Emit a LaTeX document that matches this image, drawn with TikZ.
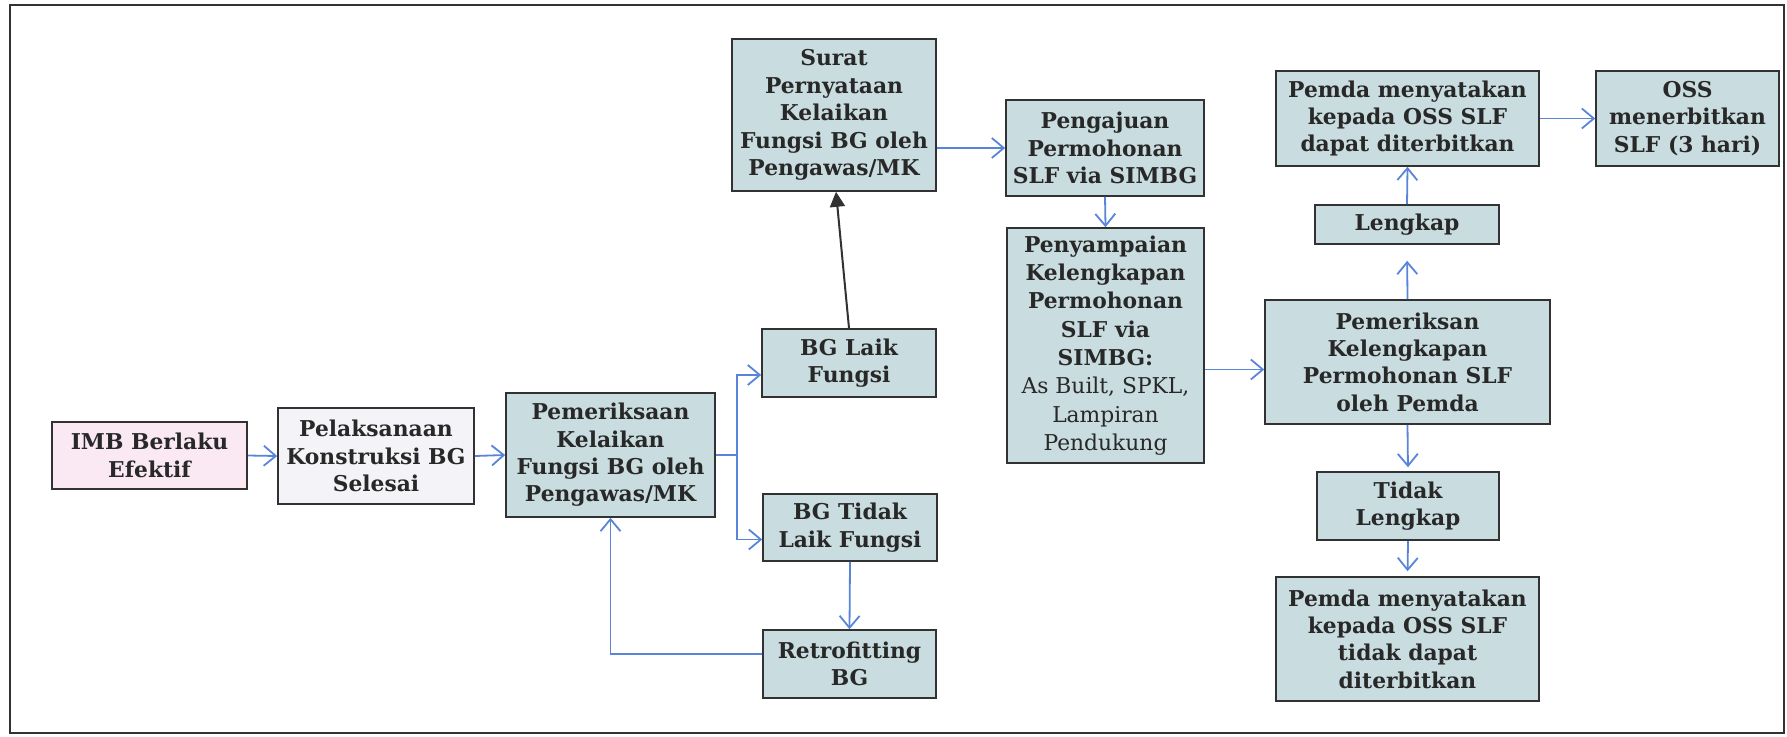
\documentclass[tikz,border=0pt]{standalone}
\usepackage{fontspec}
\setmainfont{DejaVu Serif}
\usetikzlibrary{arrows.meta}
\definecolor{boxfill}{RGB}{201,220,223}
\definecolor{pinkfill}{RGB}{250,232,242}
\definecolor{palefill}{RGB}{244,244,248}
\definecolor{txt}{RGB}{40,40,40}
\definecolor{arrblue}{RGB}{88,132,218}
\definecolor{edge}{RGB}{50,50,50}
\tikzset{
  box/.style={draw=edge, line width=1.6pt, fill=boxfill, inner sep=0pt, align=center,
    text=txt, font=\fontsize{21.8}{27.4}\selectfont\bfseries},
  arr/.style={draw=arrblue, line width=1.8pt, -{Straight Barb[length=12pt,width=20pt,line width=1.8pt]}},
  bline/.style={draw=arrblue, line width=1.8pt},
  karr/.style={draw=edge, line width=2pt, -{Triangle[length=15pt,width=15pt]}}
}
\begin{document}
\begin{tikzpicture}[x=1pt,y=-1pt]
\useasboundingbox (0,0) rectangle (1787,736);
\draw[edge, line width=1.6pt] (10,5) rectangle (1784,733);

\node[box, fill=pinkfill, minimum width=195pt, minimum height=67pt] (imb) at (149.5,455.5) {IMB Berlaku\\Efektif};
\node[box, fill=palefill, minimum width=196pt, minimum height=96pt] (pel) at (376,456) {Pelaksanaan\\Konstruksi BG\\Selesai};
\node[box, minimum width=209pt, minimum height=124pt] (pem) at (610.5,455) {Pemeriksaan\\Kelaikan\\Fungsi BG oleh\\Pengawas/MK};
\node[box, minimum width=204pt, minimum height=152pt] (sur) at (834,115) {Surat\\Pernyataan\\Kelaikan\\Fungsi BG oleh\\Pengawas/MK};
\node[box, minimum width=174pt, minimum height=68pt] (laik) at (849,363) {BG Laik\\Fungsi};
\node[box, minimum width=174pt, minimum height=67pt] (tidak) at (850,527.5) {BG Tidak\\Laik Fungsi};
\node[box, minimum width=173pt, minimum height=68pt] (retro) at (849.5,664) {Retrofitting\\BG};
\node[box, minimum width=198pt, minimum height=96pt] (peng) at (1105,148) {Pengajuan\\Permohonan\\SLF via SIMBG};
\node[box, minimum width=197pt, minimum height=235pt, font=\fontsize{21.8}{28.3}\selectfont\bfseries] (peny) at (1105.5,345.5) {Penyampaian\\Kelengkapan\\Permohonan\\SLF via\\SIMBG:\\\mdseries As Built, SPKL,\\\mdseries Lampiran\\\mdseries Pendukung};
\node[box, minimum width=285pt, minimum height=124pt] (perik) at (1407.5,362) {Pemeriksan\\Kelengkapan\\Permohonan SLF\\oleh Pemda};
\node[box, minimum width=184pt, minimum height=39pt] (lengkap) at (1407,224.5) {Lengkap};
\node[box, minimum width=263pt, minimum height=95pt] (pdt) at (1407.5,118.5) {Pemda menyatakan\\kepada OSS SLF\\dapat diterbitkan};
\node[box, minimum width=183pt, minimum height=95pt] (oss) at (1687.5,118.5) {OSS\\menerbitkan\\SLF (3 hari)};
\node[box, minimum width=182pt, minimum height=68pt] (tl) at (1408,506) {Tidak\\Lengkap};
\node[box, minimum width=263pt, minimum height=124pt] (pdb) at (1407.5,639) {Pemda menyatakan\\kepada OSS SLF\\tidak dapat\\diterbitkan};

\coordinate (br) at (737,455);
\draw[arr] (imb.east) -- (pel.west);
\draw[arr] (pel.east) -- (pem.west);
\draw[bline] (pem.east) -- (br);
\draw[arr] (br) |- ([yshift=-12pt]laik.west);
\draw[arr] (br) |- ([yshift=-12pt]tidak.west);
\draw[arr] (tidak.south) -- (retro.north);
\draw[arr] ([yshift=10pt]retro.west) -| (pem.south);
\draw[karr] (laik.north) -- ([xshift=2pt]sur.south);
\draw[arr] (sur.east |- peng.west) -- (peng.west);
\draw[arr] (peng.south) -- (peny.north);
\draw[arr] ([yshift=-24pt]peny.east) -- ([yshift=-24pt]peny.east -| perik.west);
\draw[arr, shorten >=16pt] (perik.north) -- (lengkap.south);
\draw[arr] (lengkap.north) -- (pdt.south);
\draw[arr] (pdt.east) -- (oss.west);
\draw[arr, shorten >=4pt] (perik.south) -- (tl.north);
\draw[arr, shorten >=5pt] (tl.south) -- (pdb.north);
\end{tikzpicture}
\end{document}
